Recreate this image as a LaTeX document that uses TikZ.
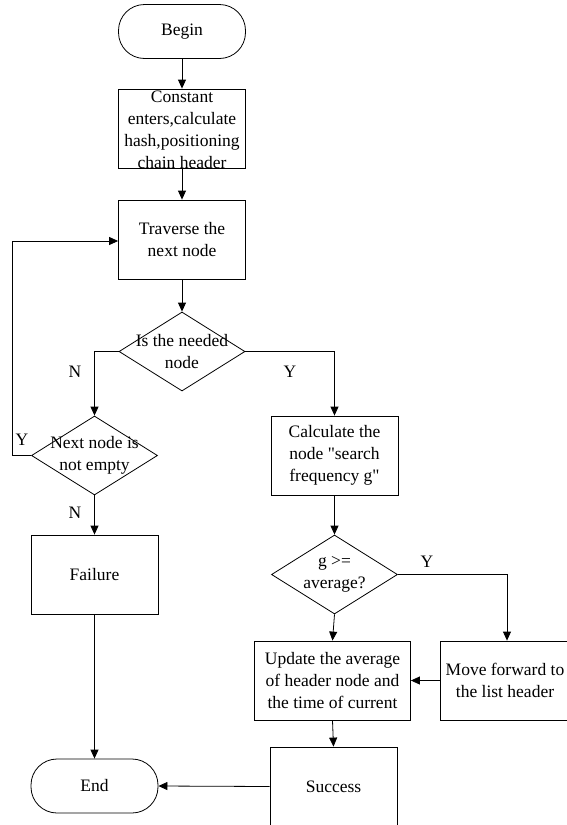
\documentclass[tikz,border=0pt]{standalone}
\usepackage{fontspec}
\setmainfont{Liberation Serif}[Ligatures=TeXOff]
\usetikzlibrary{shapes.geometric,arrows.meta}
\begin{document}
\begin{tikzpicture}[x=1pt,y=-1pt,
  line width=0.8pt,
  box/.style={draw,rectangle,inner sep=0,minimum width=127pt,minimum height=79pt},
  term/.style={draw,rectangle,rounded corners=26pt,inner sep=0,minimum width=127pt,minimum height=54pt},
  dia/.style={draw,diamond,inner sep=0,minimum width=126pt,minimum height=79pt},
  txt/.style={inner sep=0,align=center,font=\fontsize{17.5}{22}\selectfont},
  lbl/.style={inner sep=0,font=\fontsize{17.5}{22}\selectfont},
  arr/.style={-{Triangle[length=9pt,width=8pt]}}]
\useasboundingbox (0,0) rectangle (566,825);
% nodes
\node[term] (begin) at (182,31.5) {};
\node[txt] at (begin) {Begin};
\node[box] (const) at (182,128.5) {};
\node[txt] at (182,129.5) {Constant\\enters,calculate\\hash,positioning\\chain header};
\node[box] (trav) at (182,239.5) {};
\node[txt] at (trav) {Traverse the\\next node};
\node[dia] (d1) at (182,351.5) {};
\node[txt] at (d1) {Is the needed\\node};
\node[dia] (d2) at (94.5,455.5) {};
\node[txt] at (d2) {Next node is\\not empty};
\node[box] (fail) at (94.5,574.5) {};
\node[txt] at (fail) {Failure};
\node[term] (end) at (94.5,786) {};
\node[txt] at (end) {End};
\node[box] (calc) at (334.5,455.5) {};
\node[txt] at (calc) {Calculate the\\node "search\\frequency g"};
\node[dia] (d3) at (334.5,574.5) {};
\node[txt] at (d3) {g >=\\average?};
\node[box,minimum width=156pt] (upd) at (332.5,680.5) {};
\node[txt] at (upd) {Update the average\\of header node and\\the time of current};
\node[box,minimum width=130pt] (move) at (505,680.5) {};
\node[txt] at (move) {Move forward to\\the list header};
\node[box] (succ) at (333.5,786.5) {};
\node[txt] at (succ) {Success};
% helper coordinates
\coordinate (n1) at (94.5,351.5);
\coordinate (y1) at (334.5,351.5);
\coordinate (l1) at (12,455.5);
\coordinate (l2) at (12,241);
\coordinate (y3) at (507,574.5);
% connectors
\draw[arr] (begin) -- (const);
\draw[arr] (const) -- (trav);
\draw[arr] (trav) -- (d1);
\draw[arr] (d1.west) -- (n1) -- (d2.north);
\draw[arr] (d1.east) -- (y1) -- (calc.north);
\draw[arr] (d2.west) -- (l1) -- (l2) -- (trav.west |- l2);
\draw[arr] (d2.south) -- (fail.north);
\draw[arr] (fail.south) -- (end.north);
\draw[arr] (calc.south) -- (d3.north);
\draw[arr] (d3.east) -- (y3) -- (move.north -| y3);
\draw[arr] (d3.south) -- (upd.north);
\draw[arr] (move.west) -- (upd.east);
\draw[arr] (upd.south) -- (succ.north);
\draw[arr] (succ.west) -- (end.east);
% labels
\node[lbl] at (75,372) {N};
\node[lbl] at (290,372) {Y};
\node[lbl] at (22,440) {Y};
\node[lbl] at (75,513) {N};
\node[lbl] at (427,562) {Y};
\end{tikzpicture}
\end{document}
